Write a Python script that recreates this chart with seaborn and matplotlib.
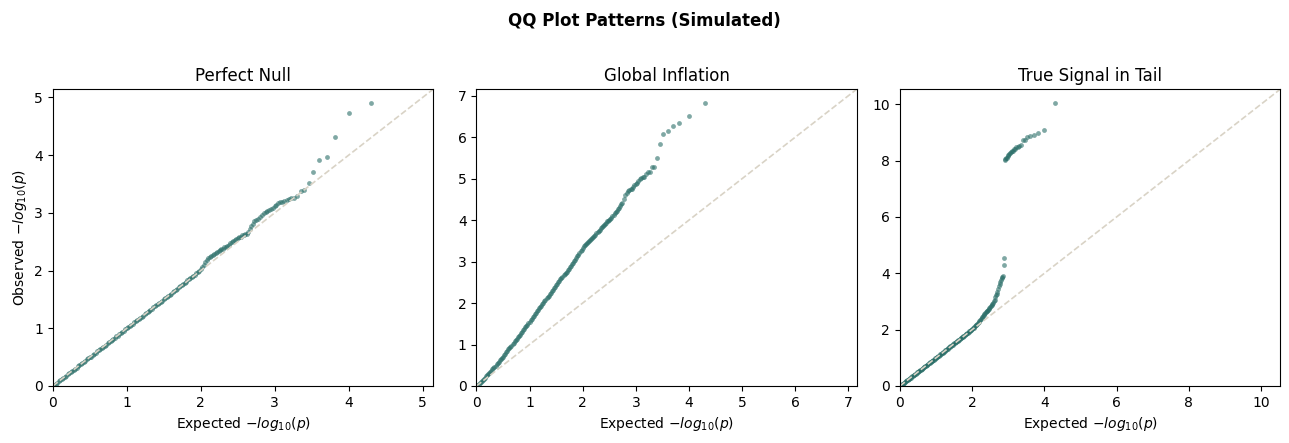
import numpy as np
import pandas as pd
import matplotlib
matplotlib.use('Agg')
import matplotlib.pyplot as plt
import seaborn as sns

# expected -log10(p) on a shared grid for the dense part of each panel
grid_exp = [0.00, 0.02, 0.04, 0.06, 0.08, 0.10, 0.12, 0.14, 0.16, 0.18,
            0.20, 0.22, 0.24, 0.26, 0.28, 0.30, 0.32, 0.34, 0.36, 0.38,
            0.40, 0.42, 0.44, 0.46, 0.48, 0.50, 0.52, 0.54, 0.56, 0.58,
            0.60, 0.62, 0.64, 0.66, 0.68, 0.70, 0.72, 0.74, 0.76, 0.78,
            0.80, 0.82, 0.84, 0.86, 0.88, 0.90, 0.92, 0.94, 0.96, 0.98,
            1.00, 1.02, 1.04, 1.06, 1.08, 1.10, 1.12, 1.14, 1.16, 1.18,
            1.20, 1.22, 1.24, 1.26, 1.28, 1.30, 1.32, 1.34, 1.36, 1.38,
            1.40, 1.42, 1.44, 1.46, 1.48, 1.50, 1.52, 1.54, 1.56, 1.58,
            1.60, 1.62, 1.64, 1.66, 1.68, 1.70, 1.72, 1.74, 1.76, 1.78,
            1.80, 1.82, 1.84, 1.86, 1.88, 1.90, 1.92, 1.94, 1.96, 1.98, 2.00]

# upper part of the curve, shared by the null and inflation panels
upper_exp = [2.02, 2.04, 2.06, 2.08, 2.10, 2.12, 2.14, 2.16, 2.18, 2.20,
             2.22, 2.24, 2.26, 2.28, 2.30, 2.32, 2.34, 2.36, 2.38, 2.40,
             2.42, 2.44, 2.46, 2.48, 2.50, 2.52, 2.54, 2.56, 2.58, 2.60,
             2.62, 2.64, 2.66, 2.68, 2.70, 2.72, 2.74, 2.77, 2.80, 2.83,
             2.86, 2.88, 2.90, 2.92, 2.95, 2.97, 3.00, 3.02, 3.05, 3.07,
             3.10, 3.13, 3.16, 3.19, 3.22, 3.26, 3.30, 3.35, 3.40, 3.46,
             3.52, 3.60, 3.70, 3.82, 4.00, 4.30]

# Perfect Null
null_exp = grid_exp + upper_exp
null_obs = [0.00, 0.02, 0.04, 0.06, 0.08, 0.10, 0.12, 0.14, 0.15, 0.18,
            0.20, 0.22, 0.24, 0.26, 0.28, 0.30, 0.31, 0.34, 0.36, 0.38,
            0.40, 0.42, 0.44, 0.46, 0.48, 0.50, 0.51, 0.54, 0.56, 0.58,
            0.60, 0.62, 0.64, 0.66, 0.68, 0.70, 0.71, 0.74, 0.76, 0.78,
            0.80, 0.82, 0.84, 0.86, 0.87, 0.90, 0.92, 0.94, 0.96, 0.98,
            1.00, 1.02, 1.04, 1.06, 1.08, 1.10, 1.12, 1.14, 1.16, 1.18,
            1.20, 1.22, 1.24, 1.26, 1.28, 1.30, 1.32, 1.34, 1.36, 1.38,
            1.40, 1.42, 1.44, 1.46, 1.48, 1.50, 1.52, 1.54, 1.56, 1.58,
            1.60, 1.62, 1.64, 1.66, 1.68, 1.71, 1.73, 1.75, 1.77, 1.79,
            1.81, 1.83, 1.85, 1.87, 1.89, 1.91, 1.93, 1.95, 1.97, 2.00, 2.02,
            2.06, 2.10, 2.14, 2.18, 2.21, 2.23, 2.25, 2.27, 2.28, 2.30,
            2.32, 2.34, 2.35, 2.37, 2.38, 2.40, 2.41, 2.43, 2.45, 2.47,
            2.49, 2.51, 2.53, 2.55, 2.56, 2.58, 2.59, 2.61, 2.62, 2.63,
            2.64, 2.67, 2.72, 2.77, 2.81, 2.85, 2.87, 2.90, 2.93, 2.97,
            2.99, 3.01, 3.03, 3.05, 3.07, 3.09, 3.11, 3.13, 3.17, 3.18,
            3.19, 3.21, 3.22, 3.24, 3.25, 3.26, 3.29, 3.37, 3.39, 3.52,
            3.71, 3.92, 3.97, 4.31, 4.73, 4.90]

# Global Inflation
infl_exp = grid_exp + upper_exp
infl_obs = [0.00, 0.02, 0.04, 0.07, 0.10, 0.12, 0.15, 0.17, 0.20, 0.23,
            0.26, 0.29, 0.32, 0.34, 0.37, 0.40, 0.43, 0.46, 0.49, 0.52,
            0.55, 0.58, 0.62, 0.65, 0.68, 0.71, 0.75, 0.78, 0.81, 0.84,
            0.88, 0.91, 0.94, 0.97, 1.01, 1.04, 1.08, 1.11, 1.14, 1.17,
            1.21, 1.24, 1.28, 1.31, 1.35, 1.38, 1.42, 1.45, 1.48, 1.52,
            1.55, 1.59, 1.62, 1.66, 1.69, 1.73, 1.76, 1.80, 1.83, 1.87,
            1.90, 1.94, 1.97, 2.01, 2.04, 2.08, 2.11, 2.15, 2.18, 2.22,
            2.25, 2.29, 2.32, 2.36, 2.39, 2.43, 2.46, 2.50, 2.53, 2.57,
            2.61, 2.64, 2.67, 2.70, 2.73, 2.76, 2.79, 2.83, 2.86, 2.90,
            2.93, 2.97, 3.01, 3.05, 3.09, 3.13, 3.17, 3.21, 3.25, 3.29, 3.32,
            3.37, 3.40, 3.42, 3.45, 3.47, 3.50, 3.52, 3.55, 3.57, 3.60,
            3.62, 3.65, 3.68, 3.71, 3.74, 3.77, 3.80, 3.83, 3.85, 3.88,
            3.91, 3.94, 3.97, 3.99, 4.01, 4.03, 4.06, 4.09, 4.13, 4.16,
            4.19, 4.23, 4.26, 4.30, 4.35, 4.39, 4.42, 4.50, 4.60, 4.66,
            4.70, 4.72, 4.74, 4.76, 4.80, 4.84, 4.88, 4.90, 4.94, 4.98,
            5.02, 5.04, 5.05, 5.12, 5.16, 5.17, 5.28, 5.29, 5.50, 5.84,
            6.08, 6.16, 6.28, 6.34, 6.52, 6.82]

# True Signal in Tail
sig_exp = grid_exp + [2.02, 2.04, 2.06, 2.08, 2.10, 2.12, 2.14, 2.16, 2.18,
                      2.20, 2.22, 2.24, 2.26, 2.28, 2.30, 2.32, 2.34, 2.36,
                      2.38, 2.40, 2.42, 2.44, 2.46, 2.48, 2.50, 2.52, 2.54,
                      2.56, 2.58, 2.60, 2.62, 2.64, 2.66, 2.68, 2.70, 2.72,
                      2.74, 2.76, 2.78, 2.80, 2.82, 2.84, 2.85, 2.87, 2.89,
                      2.90, 2.92, 2.94, 2.96, 2.98, 3.00, 3.02, 3.05, 3.07,
                      3.10, 3.13, 3.16, 3.19, 3.22, 3.26, 3.30, 3.35, 3.40,
                      3.46, 3.52, 3.60, 3.70, 3.82, 4.00, 4.30]
sig_obs = [0.00, 0.02, 0.04, 0.06, 0.08, 0.10, 0.12, 0.14, 0.16, 0.18,
           0.20, 0.22, 0.24, 0.26, 0.28, 0.30, 0.32, 0.34, 0.36, 0.38,
           0.40, 0.42, 0.44, 0.46, 0.48, 0.50, 0.52, 0.54, 0.56, 0.58,
           0.60, 0.62, 0.64, 0.66, 0.68, 0.70, 0.72, 0.74, 0.76, 0.78,
           0.80, 0.82, 0.84, 0.86, 0.88, 0.90, 0.92, 0.94, 0.96, 0.98,
           1.00, 1.02, 1.04, 1.06, 1.08, 1.10, 1.12, 1.14, 1.16, 1.18,
           1.20, 1.22, 1.24, 1.26, 1.28, 1.30, 1.32, 1.35, 1.37, 1.39,
           1.41, 1.43, 1.45, 1.47, 1.49, 1.51, 1.53, 1.55, 1.57, 1.59,
           1.61, 1.63, 1.65, 1.67, 1.69, 1.71, 1.73, 1.75, 1.77, 1.79,
           1.81, 1.83, 1.85, 1.87, 1.89, 1.92, 1.94, 1.96, 1.98, 2.00, 2.03,
           2.05, 2.07, 2.10, 2.13, 2.15, 2.18, 2.21, 2.24, 2.27,
           2.30, 2.33, 2.37, 2.41, 2.45, 2.49, 2.53, 2.57, 2.60,
           2.62, 2.65, 2.67, 2.70, 2.73, 2.76, 2.80, 2.84, 2.88,
           2.92, 2.96, 3.00, 3.07, 3.16, 3.22, 3.28, 3.34, 3.45,
           3.55, 3.62, 3.70, 3.78, 3.83, 3.87, 3.90, 4.30, 4.55,
           8.02, 8.05, 8.08, 8.11, 8.16, 8.20, 8.23, 8.27, 8.30,
           8.33, 8.36, 8.40, 8.43, 8.47, 8.50, 8.52, 8.55, 8.72,
           8.75, 8.84, 8.88, 8.92, 8.97, 9.08, 10.04]

titles = ['Perfect Null', 'Global Inflation', 'True Signal in Tail']
panels = [(null_exp, null_obs), (infl_exp, infl_obs), (sig_exp, sig_obs)]

point_color = '#2a6e68'
line_color = '#d9d3c6'

fig, axes = plt.subplots(1, 3, figsize=(12.89, 4.43), dpi=100)
fig.subplots_adjust(left=0.041, right=0.9934, bottom=0.1287, top=0.799,
                    wspace=0.113)

for ax, title, (exp_vals, obs_vals) in zip(axes, titles, panels):
    df = pd.DataFrame({'expected': exp_vals, 'observed': obs_vals})
    sns.scatterplot(data=df, x='expected', y='observed', ax=ax, s=12,
                    color=point_color, alpha=0.6, linewidth=0)
    lim = max(df['expected'].max(), df['observed'].max()) * 1.05
    ax.plot([0, lim], [0, lim], ls='--', color=line_color, lw=1.2)
    ax.set_xlim(0, lim)
    ax.set_ylim(0, lim)
    ax.set_title(title, fontsize=12)
    ax.set_xlabel(r'Expected $-log_{10}(p)$')
    ax.set_ylabel('')

axes[0].set_ylabel(r'Observed $-log_{10}(p)$')
fig.suptitle('QQ Plot Patterns (Simulated)', fontsize=12, fontweight='bold',
             y=0.975)

fig.savefig('out.png', dpi=100)
